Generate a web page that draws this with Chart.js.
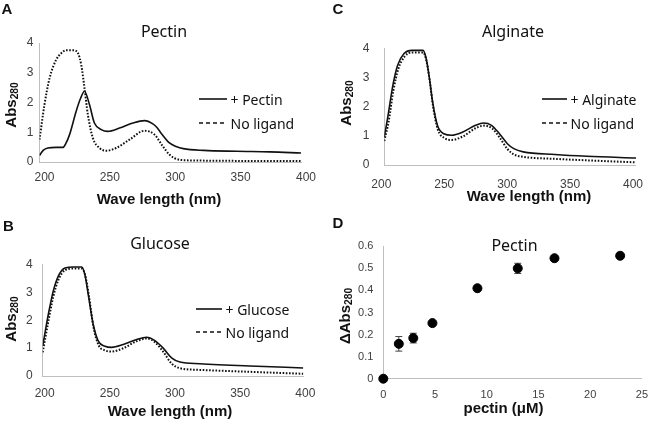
<!DOCTYPE html>
<html>
<head>
<meta charset="utf-8">
<script src="https://cdn.jsdelivr.net/npm/chart.js@4.4.1/dist/chart.umd.min.js"></script>
<style>
  body { margin: 0; background: #fff; }
  #fig { position: relative; width: 658px; height: 424px; overflow: hidden; background: #fff; }
  #fig canvas { position: absolute; }
  .t { position: absolute; white-space: nowrap; line-height: 1; color: #111; }
  .c { transform: translate(-50%, -50%); }
  .l { transform: translate(0, -50%); }
  .r { transform: translate(-50%, -50%) rotate(-90deg); }
  .ttl { font: 16px "Noto Sans", sans-serif; }
  .leg { font: 14px "Noto Sans", sans-serif; }
  .ax { font: bold 15px "Liberation Sans", Arial, sans-serif; }
  .let { font: bold 15px "Liberation Sans", Arial, sans-serif; }
  sub { font-size: 68%; vertical-align: -0.25em; }
</style>
</head>
<body>
<div id="fig"></div>
<script>
/* 四联图：A/B/C 为吸收光谱（有配体 vs 无配体），D 为果胶浓度-ΔAbs280 散点 + 误差棒 */

// ---- A: Pectin ----
const pectinWl  = [200, 203, 206.4, 212.8, 217.9, 219.9, 223, 228, 231.5, 234.4, 238.2, 242, 247.2, 252.3, 261.2, 271.4, 280.3, 286.7, 290, 293, 299.4, 304.5, 310, 325.5, 351, 376, 400];
const pectinAbs = [0.22, 0.40, 0.47, 0.49, 0.49, 0.60, 0.92, 1.70, 2.15, 2.38, 1.93, 1.31, 1.09, 1.03, 1.14, 1.31, 1.39, 1.28, 1.15, 0.97, 0.64, 0.52, 0.45, 0.39, 0.36, 0.34, 0.30];
const noLigAWl  = [200, 203.8, 207.7, 212.8, 216.5, 220.4, 225.5, 229.4, 231.9, 234.4, 237, 240.8, 245.9, 251, 258.6, 268.8, 280.3, 288, 294.3, 299.4, 303.2, 308, 320, 400];
const noLigAAbs = [0.75, 1.93, 2.82, 3.44, 3.65, 3.76, 3.76, 3.66, 3.27, 2.49, 1.59, 0.81, 0.47, 0.38, 0.47, 0.75, 1.05, 0.92, 0.53, 0.25, 0.13, 0.07, 0.05, 0.03];

// ---- B: Glucose ----
const glucoseWl  = [200, 204.3, 208.1, 212, 217.1, 223.5, 229.9, 232.4, 235, 238.8, 242.7, 247.8, 252.9, 261.8, 272.1, 279.7, 286.1, 292.5, 298.9, 305.3, 320.5, 358.9, 400];
const glucoseAbs = [1.07, 2.21, 3.05, 3.59, 3.88, 3.92, 3.92, 3.64, 2.92, 1.85, 1.25, 1.07, 1.03, 1.13, 1.31, 1.39, 1.27, 1.00, 0.65, 0.50, 0.44, 0.36, 0.29];
const noLigBWl  = [200, 204.3, 208.1, 212, 217.1, 223.5, 229.9, 232.6, 235.4, 239, 243, 248, 253, 262, 272, 280, 286, 292.5, 298.9, 305.3, 320.5, 358.9, 400];
const noLigBAbs = [0.85, 1.95, 2.85, 3.45, 3.80, 3.86, 3.86, 3.62, 2.90, 1.75, 1.10, 0.92, 0.88, 1.00, 1.25, 1.35, 1.22, 0.87, 0.45, 0.28, 0.22, 0.15, 0.08];

// ---- C: Alginate ----
const alginateWl  = [200, 203, 206.8, 210.6, 215.7, 222, 230.8, 233.3, 235.9, 238.4, 242.2, 247.3, 253.6, 262.4, 272.5, 278.8, 285.2, 291.5, 297.8, 302.9, 310.4, 335.6, 360.9, 400];
const alginateAbs = [0.96, 1.70, 2.73, 3.42, 3.82, 3.93, 3.93, 3.64, 2.96, 2.16, 1.36, 1.07, 1.02, 1.13, 1.36, 1.44, 1.36, 1.07, 0.73, 0.56, 0.45, 0.36, 0.30, 0.24];
const noLigCWl  = [200, 203.5, 207.2, 211.2, 216.2, 222, 230.8, 233.6, 236.2, 238.8, 242.5, 247.5, 253.6, 262.4, 272.5, 279.3, 285.5, 291.5, 297.8, 303, 310.4, 335.6, 360.9, 400];
const noLigCAbs = [0.82, 1.50, 2.55, 3.30, 3.72, 3.86, 3.86, 3.55, 2.85, 2.00, 1.22, 0.93, 0.86, 0.98, 1.26, 1.35, 1.26, 0.95, 0.55, 0.36, 0.28, 0.21, 0.16, 0.09];

// ---- D: ΔAbs280 vs pectin ----
const conc    = [0, 1.5, 2.9, 4.75, 9.1, 13, 16.55, 22.9];
const dAbs    = [0, 0.158, 0.184, 0.252, 0.41, 0.5, 0.546, 0.557];
const dAbsErr = [0, 0.033, 0.022, 0.006, 0.004, 0.023, 0.005, 0.005];

const wlTicks = { min: 200, max: 400, step: 50 };
const absTicks = { min: 0, max: 4, step: 1 };

const fig = document.getElementById('fig');
const TICK_FONT = { family: '"Liberation Sans", Arial, sans-serif', size: 12 };
const TICK_COLOR = '#404040';
const AXIS_LINE = '#bfbfbf';
const INK = '#111';

function text(html, x, y, cls) {
  const d = document.createElement('div');
  d.className = 't ' + cls;
  d.style.left = x + 'px';
  d.style.top = y + 'px';
  d.innerHTML = html;
  fig.appendChild(d);
}

// 图例：线段样式与曲线一致（实线 / 虚线）
function legendItem(label, dotted, x0, x1, y, tx) {
  const s = document.createElementNS('http://www.w3.org/2000/svg', 'svg');
  s.setAttribute('width', x1 - x0);
  s.setAttribute('height', 4);
  s.style.cssText = `position:absolute;left:${x0}px;top:${y - 2}px;`;
  s.innerHTML = `<line x1="0" y1="2" x2="${x1 - x0}" y2="2" stroke="${INK}" stroke-width="1.6"${dotted ? ' stroke-dasharray="4 3"' : ''}/>`;
  fig.appendChild(s);
  text(label, tx, y, 'leg l');
}

function canvasAt(left, top, w, h) {
  const c = document.createElement('canvas');
  c.width = w; c.height = h;
  c.style.left = left + 'px'; c.style.top = top + 'px';
  c.style.width = w + 'px'; c.style.height = h + 'px';
  fig.appendChild(c);
  return c;
}

// 固定绘图区：y 轴宽度 = 左边距，x 轴高度 = 底部剩余
function axisOpts(p, xr, yr, font) {
  return {
    x: {
      type: 'linear', min: xr.min, max: xr.max,
      grid: { display: false, drawTicks: false },
      border: { display: true, color: AXIS_LINE, width: 1 },
      ticks: { stepSize: xr.step, padding: p.xPad, labelOffset: p.xOff || 0, color: TICK_COLOR, font: font, maxRotation: 0, autoSkip: false },
      afterFit: (s) => { s.height = p.h - p.b; },
    },
    y: {
      min: yr.min, max: yr.max,
      grid: { display: false, drawTicks: false },
      border: { display: true, color: AXIS_LINE, width: 1 },
      ticks: { stepSize: yr.step, padding: p.yPad, color: TICK_COLOR, font: font },
      afterFit: (s) => { s.width = p.l; },
    },
  };
}

function spectrum(p, series) {
  const cv = canvasAt(p.left, p.top, p.w, p.h);
  return new Chart(cv, {
    type: 'line',
    data: {
      datasets: series.map((s) => ({
        label: s.label,
        data: s.wl.map((x, i) => ({ x: x, y: s.abs[i] })),
        borderColor: INK,
        borderWidth: s.dotted ? 2 : 1.6,
        borderDash: s.dotted ? [1.6, 1.6] : [],
        pointRadius: 0,
        cubicInterpolationMode: 'monotone',
        fill: false,
      })),
    },
    options: {
      responsive: false, animation: false, events: [],
      layout: { padding: { left: 0, top: p.t, right: p.w - p.r, bottom: 0 } },
      plugins: { legend: { display: false }, tooltip: { enabled: false } },
      scales: axisOpts(p, wlTicks, absTicks, TICK_FONT),
    },
  });
}

// 面板几何（画布位置 + 绘图区 l/r/t/b，均为画布内坐标）
const pA = { left: 0,   top: 0,   w: 330, h: 212, l: 39.5, r: 301,   t: 43,   b: 162,   yPad: 6,  xPad: 8,  xOff: 5 };
const pB = { left: 0,   top: 212, w: 330, h: 212, l: 42.7, r: 303.3, t: 52.7, b: 164,   yPad: 10, xPad: 10, xOff: 2 };
const pC = { left: 330, top: 0,   w: 328, h: 212, l: 54.3, r: 318.3, t: 48.3, b: 165,   yPad: 15, xPad: 12, xOff: -3 };
const pD = { left: 330, top: 212, w: 328, h: 212, l: 53.3, r: 313,   t: 34.3, b: 166.7, yPad: 10, xPad: 10 };

spectrum(pA, [
  { label: '+ Pectin', wl: pectinWl, abs: pectinAbs, dotted: false },
  { label: 'No ligand', wl: noLigAWl, abs: noLigAAbs, dotted: true },
]);
spectrum(pB, [
  { label: '+ Glucose', wl: glucoseWl, abs: glucoseAbs, dotted: false },
  { label: 'No ligand', wl: noLigBWl, abs: noLigBAbs, dotted: true },
]);
spectrum(pC, [
  { label: '+ Alginate', wl: alginateWl, abs: alginateAbs, dotted: false },
  { label: 'No ligand', wl: noLigCWl, abs: noLigCAbs, dotted: true },
]);

// D：散点 + 误差棒（误差棒先画，圆点盖在上面）
const errorBars = {
  id: 'errorBars',
  beforeDatasetsDraw(chart) {
    const { ctx, scales: { x, y } } = chart;
    ctx.save();
    ctx.strokeStyle = '#444';
    ctx.lineWidth = 1;
    conc.forEach((c, i) => {
      if (!dAbsErr[i]) return;
      const px = x.getPixelForValue(c);
      const hi = y.getPixelForValue(dAbs[i] + dAbsErr[i]);
      const lo = y.getPixelForValue(dAbs[i] - dAbsErr[i]);
      ctx.beginPath();
      ctx.moveTo(px, hi); ctx.lineTo(px, lo);
      ctx.moveTo(px - 3.5, hi); ctx.lineTo(px + 3.5, hi);
      ctx.moveTo(px - 3.5, lo); ctx.lineTo(px + 3.5, lo);
      ctx.stroke();
    });
    ctx.restore();
  },
};

new Chart(canvasAt(pD.left, pD.top, pD.w, pD.h), {
  type: 'scatter',
  data: {
    datasets: [{
      data: conc.map((c, i) => ({ x: c, y: dAbs[i] })),
      backgroundColor: '#000', borderColor: '#000',
      pointRadius: 4.5, clip: false,
    }],
  },
  options: {
    responsive: false, animation: false, events: [],
    layout: { padding: { left: 0, top: pD.t, right: pD.w - pD.r, bottom: 0 } },
    plugins: { legend: { display: false }, tooltip: { enabled: false } },
    scales: axisOpts(pD, { min: 0, max: 25, step: 5 }, { min: 0, max: 0.6, step: 0.1 }, { family: TICK_FONT.family, size: 11 }),
  },
  plugins: [errorBars],
});

// ---- 文字：面板字母、标题、图例、轴标题 ----
text('A', 7, 7.5, 'let c');
text('Pectin', 164, 30.5, 'ttl c');
legendItem('+ Pectin', false, 199, 227, 99, 230.5);
legendItem('No ligand', true, 199, 227, 123, 230.5);
text('Wave length (nm)', 159, 198, 'ax c');
text('Abs<sub>280</sub>', 11, 104.5, 'ax r');

text('B', 8.3, 225.3, 'let c');
text('Glucose', 160, 242.5, 'ttl c');
legendItem('+ Glucose', false, 196, 222, 309.3, 225.5);
legendItem('No ligand', true, 196, 222, 332, 225.5);
text('Wave length (nm)', 170, 410, 'ax c');
text('Abs<sub>280</sub>', 11, 318.7, 'ax r');

text('C', 338, 8, 'let c');
text('Alginate', 513, 30.5, 'ttl c');
legendItem('+ Alginate', false, 542, 567, 99.3, 570.5);
legendItem('No ligand', true, 542, 567, 123.3, 570.5);
text('Wave length (nm)', 529, 195, 'ax c');
text('Abs<sub>280</sub>', 346, 102.5, 'ax r');

text('D', 338, 222, 'let c');
text('Pectin', 514.5, 244.5, 'ttl c');
text('pectin (μM)', 503.5, 407.3, 'ax c');
text('ΔAbs<sub>280</sub>', 345, 316, 'ax r');
</script>
</body>
</html>
